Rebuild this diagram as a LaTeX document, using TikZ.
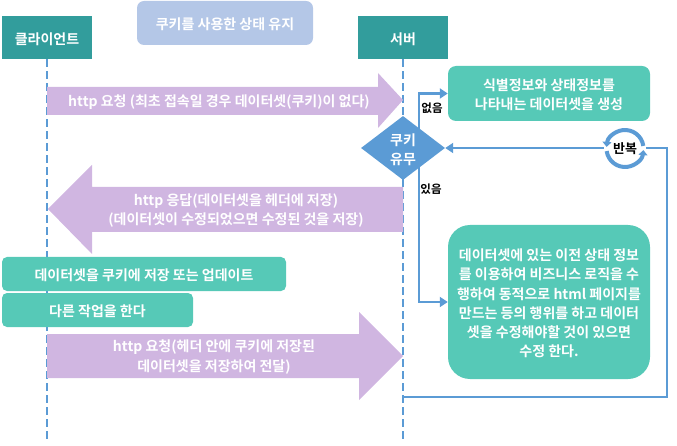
\documentclass[tikz,border=0pt]{standalone}
\usepackage{fontspec}
\setmainfont{Noto Sans CJK KR}[BoldFont={* Bold}]
\usetikzlibrary{shapes.geometric,arrows.meta}
\definecolor{teal1}{HTML}{329D9C}
\definecolor{mint}{HTML}{56C9B7}
\definecolor{lilac}{HTML}{D0B6E1}
\definecolor{bluegrey}{HTML}{B4C7E7}
\definecolor{lineblue}{HTML}{5B9BD5}
\tikzset{
  x=1pt,y=-1pt,
  txt/.style={text=white,font=\bfseries\fontsize{14}{19.3}\selectfont,align=center,inner sep=0pt},
  inside/.style={label={[txt,yshift=-1.5pt]center:#1}},
  actor/.style={fill=teal1,minimum width=90pt,minimum height=43pt,inner sep=0pt},
  lane/.style={draw=lineblue,line width=2.6pt,dash pattern=on 7.5pt off 4.5pt},
  flow/.style={draw=lineblue,line width=2.4pt},
  tipflow/.style={flow,-{Triangle[length=8pt,width=10pt]}},
  bubble/.style={fill=mint,rounded corners=#1,inner sep=0pt},
  bubble/.default=6pt,
  band/.style={fill=lilac},
  tag/.style={text=black,font=\bfseries\fontsize{11.5}{13}\selectfont,inner sep=0pt},
  ring/.style={draw=lineblue,line width=4pt,-{Triangle[length=5pt,width=9pt]}}
}
\begin{document}
\begin{tikzpicture}
\useasboundingbox (0,0) rectangle (677,446);
% lifelines
\node[actor,inside={클라이언트}] (client) at (47,37.5) {};
\node[actor,inside={서버}] (server) at (403,37.5) {};
\coordinate (clientEnd) at (47,440);
\coordinate (serverEnd) at (403,440);
\draw[lane] (client.south) -- (clientEnd);
\draw[lane] (server.south) -- (serverEnd);
% title
\node[fill=bluegrey,rounded corners=7pt,minimum width=176pt,minimum height=44pt,inner sep=0pt,inside={쿠키를 사용한 상태 유지}] (title) at (225,23) {};
% block arrows
\fill[band] (47,87) -- (378,87) -- (378,73) -- (403,100) -- (378,128) -- (378,115) -- (47,115) -- cycle;
\node[txt] (req1) at (219,102.5) {http 요청 (최초 접속일 경우 데이터셋(쿠키)이 없다)};
\fill[band] (403,187) -- (92,187) -- (92,165) -- (48,209) -- (92,254) -- (92,232) -- (403,232) -- cycle;
\node[txt] (res1) at (236,210.5) {http 응답(데이터셋을 헤더에 저장)\\(데이터셋이 수정되었으면 수정된 것을 저장)};
\fill[band] (47,334) -- (359,334) -- (359,312) -- (403,356) -- (359,400) -- (359,378) -- (47,378) -- cycle;
\node[txt] (req2) at (214,357) {http 요청(헤더 안에 쿠키에 저장된\\데이터셋을 저장하여 전달)};
% bubbles
\node[bubble=8pt,minimum width=202pt,minimum height=55pt,inside={식별정보와 상태정보를\\나타내는 데이터셋을 생성}] (make) at (549,93.5) {};
\node[bubble=5pt,minimum width=284pt,minimum height=34pt,inside={데이터셋을 쿠키에 저장 또는 업데이트}] (save) at (144,274) {};
\node[bubble=5pt,minimum width=191pt,minimum height=34pt,inside={다른 작업을 한다}] (other) at (97.5,310) {};
\node[bubble=22pt,minimum width=202pt,minimum height=154pt,inside={데이터셋에 있는 이전 상태 정보\\를 이용하여 비즈니스 로직을 수\\행하여 동적으로 html 페이지를\\만드는 등의 행위를 하고 데이터\\셋을 수정해야할 것이 있으면\\수정 한다.}] (work) at (549,302) {};
% decision connectors
\coordinate (noUp) at (419,132);
\coordinate (yesDown) at (419,164);
\draw[tipflow] (noUp) |- (make.west);
\draw[tipflow] (yesDown) |- (work.west);
\node[diamond,aspect=1.31,fill=lineblue,minimum width=84pt,minimum height=64pt,inner sep=0pt,inside={쿠키\\유무}] (check) at (403,148) {};
\node[tag] (no) at (432,108.5) {없음};
\node[tag] (yes) at (431,189) {있음};
% loop back
\coordinate (loopStart) at (403,397);
\coordinate (loopRight) at (667,397);
\coordinate (loopTop) at (667,148);
\coordinate (ringC) at (625,148.5);
\draw[flow] (loopStart) -- (loopRight) -- (loopTop) -- (ringC |- loopTop);
\draw[tipflow] (ringC |- loopTop) -- (check.east);
\fill[white] (ringC) circle (21);
\draw[ring] (ringC) ++(172:18.5) arc[start angle=172,end angle=5,radius=18.5];
\draw[ring] (ringC) ++(-8:18.5) arc[start angle=-8,end angle=-175,radius=18.5];
\node[fill=white,inner xsep=1pt,inner ysep=0pt,text=black,font=\bfseries\fontsize{13}{14}\selectfont] (rep) at (ringC) {반복};
\end{tikzpicture}
\end{document}
